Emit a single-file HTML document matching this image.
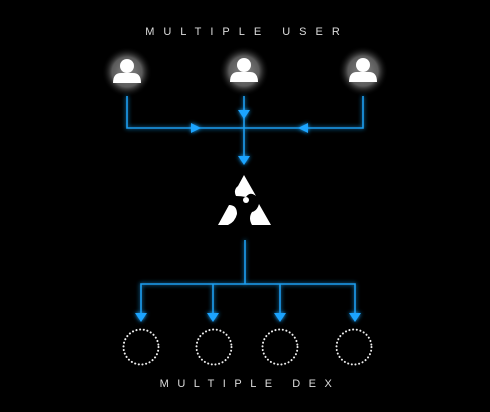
<!DOCTYPE html>
<html><head><style>
html,body{margin:0;padding:0;background:#000;width:490px;height:412px;overflow:hidden}
</style></head><body>
<svg width="490" height="412" viewBox="0 0 490 412" xmlns="http://www.w3.org/2000/svg">
<defs>
<filter id="g" x="-50%" y="-50%" width="200%" height="200%"><feGaussianBlur stdDeviation="2" result="b"/><feMerge><feMergeNode in="b"/><feMergeNode in="SourceGraphic"/></feMerge></filter>
<radialGradient id="w"><stop offset="0" stop-color="#888"/><stop offset="0.6" stop-color="#5a5a5a"/><stop offset="1" stop-color="#000" stop-opacity="0"/></radialGradient>
<g id="u"><circle r="25" fill="url(#w)"/><circle cy="-6" r="7" fill="#fff"/><path d="M-14,11 Q-14,1 -6,1 L6,1 Q14,1 14,11 Z" fill="#fff"/></g>
</defs>
<text x="247" y="35" fill="#ddd" font-family="Liberation Sans, sans-serif" font-size="11" letter-spacing="9" text-anchor="middle">MULTIPLE USER</text>
<use href="#u" x="127" y="72"/><use href="#u" x="244" y="71"/><use href="#u" x="363" y="71"/>
<g stroke="#1a9ef0" stroke-width="1.6" fill="none" filter="url(#g)">
<path d="M127,96 V128 H363 V96"/><path d="M244,96 V160"/>
<path d="M245,240 V284"/><path d="M141,318 V284 H355 V318"/><path d="M213,284 V318"/><path d="M280,284 V318"/>
</g>
<g fill="#1aa4ff" filter="url(#g)">
<path d="M238,110 h12 l-6,9z"/><path d="M238,156 h12 l-6,9z"/>
<path d="M191,123 v10 l10,-5z"/><path d="M308,123 v10 l-10,-5z"/>
<path d="M135,313 h12 l-6,9z"/><path d="M207,313 h12 l-6,9z"/><path d="M274,313 h12 l-6,9z"/><path d="M349,313 h12 l-6,9z"/>
</g>
<g fill="#fff">
<path d="M244,175 L256,196 Q250,191 246,197 Q241,196 236,196 Q233,190 238,186Z"/>
<path d="M229,205 Q237,205 237,214 Q235,222 228,225 L218,225Z"/>
<path d="M259,204 L271,225 L252,225 Q248,218 252,212 Q257,211 259,204Z"/>
<circle cx="246" cy="200" r="3"/>
</g>
<g stroke="#eee" stroke-width="2" fill="none" stroke-dasharray="0.1 3.6" stroke-linecap="round">
<circle cx="141" cy="347" r="17.5"/><circle cx="214" cy="347" r="17.5"/><circle cx="280" cy="347" r="17.5"/><circle cx="354" cy="347" r="17.5"/>
</g>
<text x="250" y="387" fill="#ddd" font-family="Liberation Sans, sans-serif" font-size="11" letter-spacing="8.5" text-anchor="middle">MULTIPLE DEX</text>
</svg>
</body></html>
